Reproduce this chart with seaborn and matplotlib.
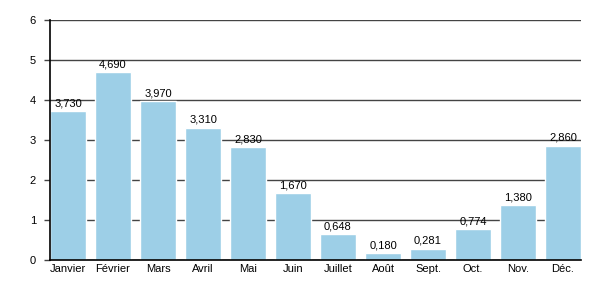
import matplotlib
matplotlib.use("Agg")
import matplotlib.pyplot as plt
import seaborn as sns
import pandas as pd

months = ["Janvier", "Février", "Mars", "Avril", "Mai", "Juin", "Juillet",
          "Août", "Sept.", "Oct.", "Nov.", "Déc."]
values = [3.730, 4.690, 3.970, 3.310, 2.830, 1.670, 0.648, 0.180, 0.281,
          0.774, 1.380, 2.860]
yticks = [0, 1, 2, 3, 4, 5, 6]

sns.set_theme(style="white")
plt.rcParams['font.family'] = ['Liberation Sans', 'DejaVu Sans']
plt.rcParams['text.color'] = 'black'
plt.rcParams['xtick.color'] = 'black'
plt.rcParams['ytick.color'] = 'black'

df = pd.DataFrame({"mois": months, "val": values})

fig = plt.figure(figsize=(6, 3), dpi=100)
ax = fig.add_axes([50/600, 1 - 260/300, 531/600, 240/300])

sns.barplot(data=df, x="mois", y="val", color="#9dcfe7", saturation=1,
            width=0.8, ax=ax, zorder=3)

ax.set_xlim(-0.4, 11.4)
ax.set_ylim(0, 6)
ax.set_yticks(yticks)
ax.set_yticklabels([str(t) for t in yticks])
ax.yaxis.grid(True, color="#444444", linewidth=1, zorder=0)
ax.set_axisbelow(True)
ax.set_xlabel("")
ax.set_ylabel("")
for s in ["top", "right"]:
    ax.spines[s].set_visible(False)
for s in ["left", "bottom"]:
    ax.spines[s].set_color("black")
    ax.spines[s].set_linewidth(1.2)
    ax.spines[s].set_zorder(5)
ax.tick_params(axis="y", length=4, width=1, color="#444444", labelcolor="black",
               labelsize=8, left=True, pad=6)
ax.tick_params(axis="x", length=0, labelsize=8, labelcolor="black", pad=3)

for i, v in enumerate(values):
    lab = f"{v:.3f}".replace(".", ",")
    ax.annotate(lab, (i, v), xytext=(0, 2), textcoords="offset points",
                ha="center", va="bottom", fontsize=8, color="black", zorder=6)

fig.savefig("out.png", dpi=100)
